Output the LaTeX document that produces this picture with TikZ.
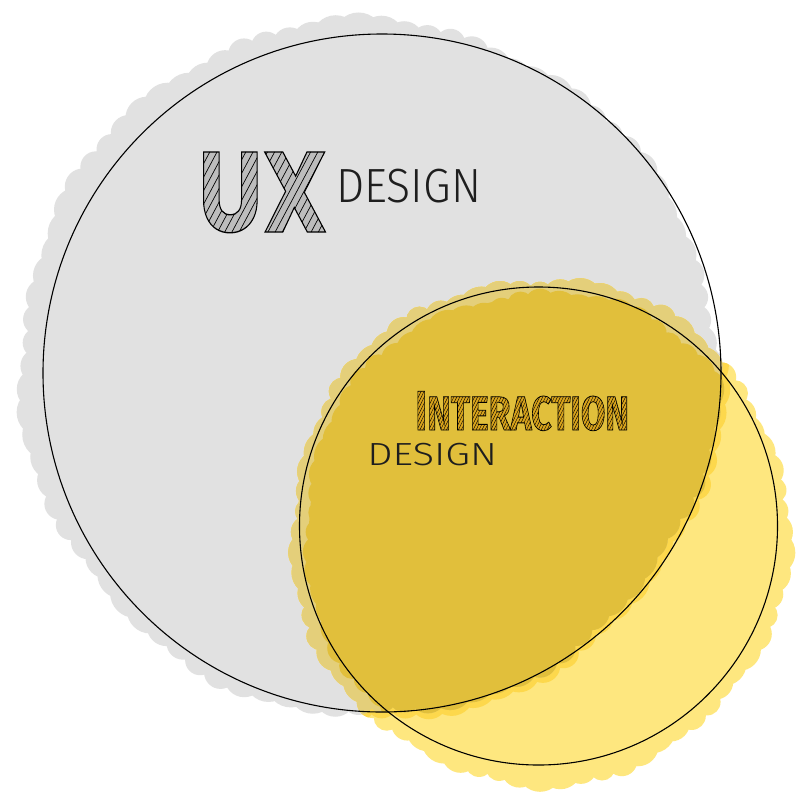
\documentclass[tikz,border=0pt]{standalone}
\usepackage{fontspec}
\newfontfamily\uxfont{Poppins}
\newfontfamily\thinfont{Fira Sans Light}
\newfontfamily\intfont{Fira Sans}
\definecolor{graybg}{HTML}{E1E1E1}
\definecolor{goldband}{HTML}{E4CF7A}
\definecolor{golddark}{HTML}{E1BF3B}
\definecolor{yellowlight}{HTML}{FEE77F}
\definecolor{yellowsat}{HTML}{FDD84C}
\definecolor{uxfill}{HTML}{BDBDBD}
\definecolor{intfill}{HTML}{D9A41C}
\definecolor{inkdark}{HTML}{1E1E1E}
% bumpy blob paths (pixel coordinates): base shape plus irregular bumps
% bump radius r(a), protrusion p(a); bump centre at distance B - r + p
\def\gp{(6+3*sin(7*\a+10)+2.5*sin(19*\a+50)-14*max(0,cos(\a-308)-0.5))}
\def\gr{(20+5*sin(11*\a+30))}
\def\grayblob{(370,366) circle[radius=332]
  foreach \a in {0,4,...,356}{({370+(346-\gr+\gp)*cos(\a)},{366+(346-\gr+\gp)*sin(\a)}) circle[radius=\gr]}}
\def\grayblobwide{(370,366) circle[radius=338]
  foreach \a in {0,4,...,356}{({370+(352-\gr+\gp)*cos(\a)},{366+(352-\gr+\gp)*sin(\a)}) circle[radius=\gr]}}
\def\yp{(6+3*sin(5*\a+40)+2.5*sin(17*\a))}
\def\yr{(18+5*sin(13*\a+20))}
\def\yellowblob{(540,532) ellipse[x radius=243,y radius=247]
  foreach \a in {0,5,...,355}{({540+(245-\yr+\yp)*cos(\a)},{532+(249-\yr+\yp)*sin(\a)}) circle[radius=\yr]}}
\def\ip{(5+3*sin(5*\a+70)+2.5*sin(15*\a+20))}
\def\ir{(18+5*sin(9*\a+60))}
\def\yellowinner{(540,532) ellipse[x radius=231,y radius=235]
  foreach \a in {0,5,...,355}{({540+(233-\ir+\ip)*cos(\a)},{532+(237-\ir+\ip)*sin(\a)}) circle[radius=\ir]}}
\newcommand\hatchUX{\tikz[overlay]{\foreach \i in {-250,-241,...,10}{\draw[black,line width=0.8pt] (\i pt,-20pt) -- ++(70pt,105pt);}}}
\newcommand\hatchINT{\tikz[overlay]{\foreach \i in {-330,-326,...,10}{\draw[black,line width=0.5pt] (\i pt,-5pt) -- ++(34pt,51pt);}}}
\tikzset{
  outline/.style={draw=black,line width=1.1pt},
  label/.style={inner sep=0pt,anchor=base west,transform shape},
}
\begin{document}
\begin{tikzpicture}[x=1pt,y=-1pt]
\useasboundingbox (0,0) rectangle (799,798);
\fill[white] (0,0) rectangle (799,798);
% gray sketch blob
\fill[graybg] \grayblob;
% yellow sketch blob
\fill[yellowlight] \yellowblob;
\begin{scope}
  \clip \yellowblob;
  \fill[yellowsat] \grayblobwide;
\end{scope}
\begin{scope}
  \clip \grayblob;
  \fill[goldband] \yellowblob;
  \fill[golddark] \yellowinner;
\end{scope}
% outline circles
\draw[outline] (382,373) circle[radius=339];
\draw[outline] (538.5,526) circle[radius=239];
% texts
\begin{scope}
\node[label,xscale=0.8,text=uxfill,font=\uxfont\bfseries\fontsize{114}{114}\selectfont] (ux) at (198,232)
  {\special{pdf:literal direct 6 Tr 1.3 w 0 0 0 RG}UX\hatchUX};
\end{scope}
\node[label,xscale=0.93,text=inkdark,font=\thinfont\fontsize{48}{48}\selectfont] (uxdesign) at (336,202) {DESIGN};
\begin{scope}
\node[label,xscale=0.74,text=intfill,font=\intfont\bfseries\fontsize{48}{48}\selectfont] (interaction) at (415,430)
  {\special{pdf:literal direct 6 Tr 0.8 w 0 0 0 RG}{\fontsize{56}{56}\selectfont I}NTERACTION\hatchINT};
\end{scope}
\node[label,xscale=1.25,text=inkdark,font=\thinfont\fontsize{32}{32}\selectfont] (ixdesign) at (367,465) {DESIGN};
\end{tikzpicture}
\end{document}
